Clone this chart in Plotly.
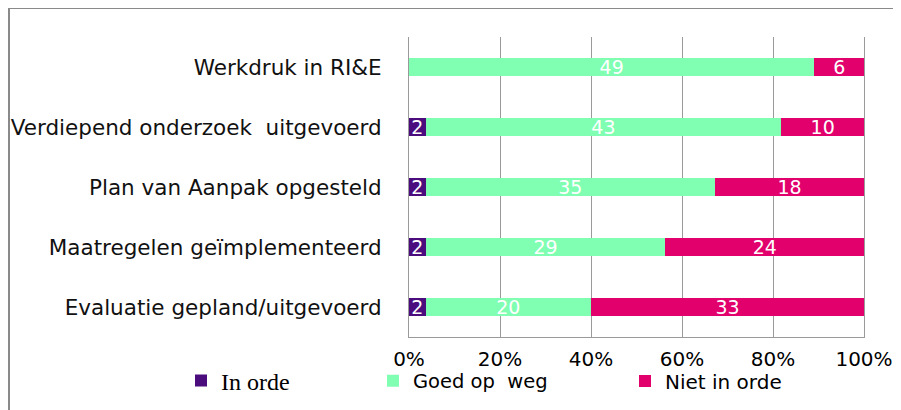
import plotly.graph_objects as go

categories = ["Werkdruk in RI&E", "Verdiepend onderzoek  uitgevoerd", "Plan van Aanpak opgesteld",
              "Maatregelen geïmplementeerd", "Evaluatie gepland/uitgevoerd"]
in_orde = [0, 2, 2, 2, 2]
goed_op_weg = [49, 43, 35, 29, 20]
niet_in_orde = [6, 10, 18, 24, 33]
tick_vals = [0, 20, 40, 60, 80, 100]
tick_text = ["0%", "20%", "40%", "60%", "80%", "100%"]

series = [
    ("In orde", in_orde, "#4B0C7E", "legend"),
    ("Goed op  weg", goed_op_weg, "#80FFB3", "legend2"),
    ("Niet in orde", niet_in_orde, "#E2006D", "legend3"),
]

fig = go.Figure()
for name, vals, color, lg in series:
    fig.add_trace(go.Bar(
        y=categories, x=vals, name=name, orientation="h",
        marker=dict(color=color, line=dict(width=0)),
        text=[str(v) for v in vals], texttemplate="%{text}",
        textposition="inside", insidetextanchor="middle", constraintext="none",
        textangle=0,
        textfont=dict(family="DejaVu Sans", size=19, color="white"),
        legend=lg, cliponaxis=False,
    ))

# page has an 8px body margin; figure coordinates below are page coords minus 8
W, H = 893, 402
L, R, T, B = 401, 37, 29, 73
pw, ph = W - L - R, H - T - B

def px(x):
    return (x - L) / pw

def py(y):
    return (H - B - y) / ph

legend_common = dict(orientation="h", yanchor="middle", xanchor="left", bgcolor="rgba(0,0,0,0)",
                     itemwidth=30, tracegroupgap=0)
fig.update_layout(
    width=W, height=H,
    margin=dict(l=L, r=R, t=T, b=B, pad=0, autoexpand=False),
    paper_bgcolor="white", plot_bgcolor="white",
    barmode="stack", barnorm="percent", bargap=0.7,
    showlegend=True,
    legend=dict(x=px(173), y=py(373), font=dict(family="Liberation Serif", size=24, color="black"), **legend_common),
    legend2=dict(x=px(365), y=py(373), font=dict(family="DejaVu Sans", size=19.5, color="black"), **legend_common),
    legend3=dict(x=px(617), y=py(373), font=dict(family="DejaVu Sans", size=20, color="black"), **legend_common),
    xaxis=dict(range=[0, 100], tickvals=tick_vals, ticktext=tick_text,
               showgrid=True, gridcolor="#9a9a9a", gridwidth=1, zeroline=False,
               showline=True, linecolor="#9a9a9a", linewidth=1, ticks="",
               tickfont=dict(family="DejaVu Sans", size=20, color="black"),
               ticklabelstandoff=4),
    yaxis=dict(categoryorder="array", categoryarray=categories[::-1],
               showgrid=False, zeroline=False, showline=True, mirror=True,
               linecolor="#9a9a9a", linewidth=1, ticks="",
               tickfont=dict(family="DejaVu Sans", size=21.5, color="#111111"),
               ticklabelstandoff=22),
    shapes=[
        dict(type="line", xref="paper", yref="paper", x0=px(0), x1=px(W + 5), y0=py(0), y1=py(0),
             line=dict(color="#8a8a8a", width=2)),
        dict(type="line", xref="paper", yref="paper", x0=px(1), x1=px(1), y0=py(0), y1=py(H + 5),
             line=dict(color="#8a8a8a", width=2)),
    ],
)

fig.write_html("out.html")
